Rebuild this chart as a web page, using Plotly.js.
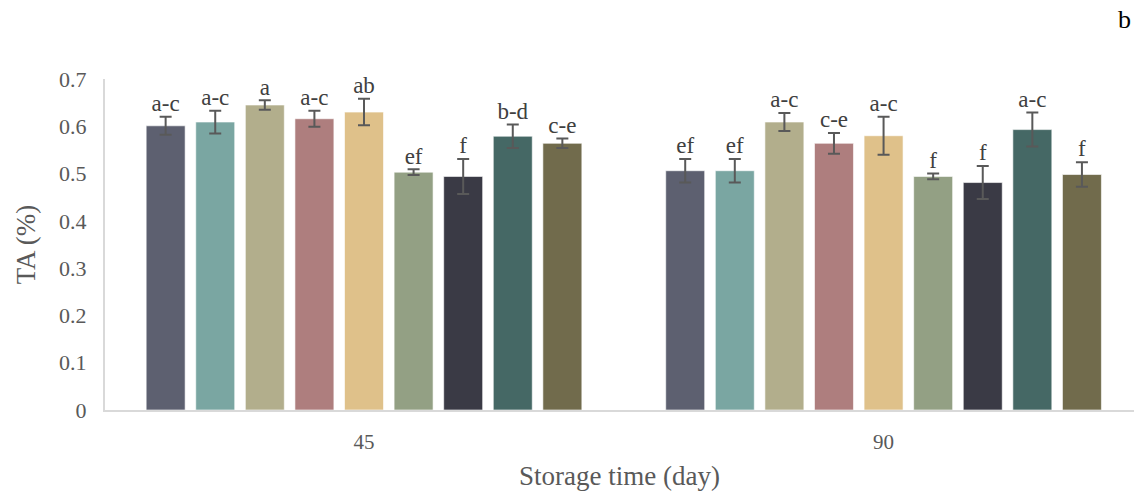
<!DOCTYPE html>
<html>
<head>
<meta charset="utf-8">
<script src="https://cdn.plot.ly/plotly-3.0.1.min.js"></script>
<style>html,body{margin:0;padding:0;background:#fff;}#chart{width:1134px;height:491px;}</style>
</head>
<body>
<div id="chart"></div>
<script>
const categories = ['45', '90'];
const seriesNames = ['T1', 'T2', 'T3', 'T4', 'T5', 'T6', 'T7', 'T8', 'T9'];
const values45 = [0.601, 0.609, 0.645, 0.616, 0.630, 0.503, 0.494, 0.579, 0.564];
const values90 = [0.506, 0.506, 0.609, 0.564, 0.580, 0.494, 0.481, 0.593, 0.498];
const errors45 = [0.019, 0.024, 0.010, 0.017, 0.028, 0.006, 0.037, 0.025, 0.010];
const errors90 = [0.025, 0.025, 0.019, 0.022, 0.040, 0.006, 0.035, 0.036, 0.026];
const letters45 = ['a-c', 'a-c', 'a', 'a-c', 'ab', 'ef', 'f', 'b-d', 'c-e'];
const letters90 = ['ef', 'ef', 'a-c', 'c-e', 'a-c', 'f', 'f', 'a-c', 'f'];
const colors = ['#5d6070', '#7aa6a2', '#b2ae8c', '#ae7e7e', '#dfc18a', '#93a084', '#3a3a45', '#456865', '#716b4c'];

const font = '"Liberation Serif", "Times New Roman", serif';
const traces = [];
seriesNames.forEach((name, i) => {
  traces.push({
    type: 'bar',
    name: name,
    x: categories,
    y: [values45[i], values90[i]],
    marker: {color: colors[i], line: {color: 'rgba(255,255,255,0.6)', width: 1}},
    error_y: {type: 'data', array: [errors45[i], errors90[i]], visible: true, color: '#595959', thickness: 2, width: 6},
    showlegend: false,
    hoverinfo: 'y'
  });
});
seriesNames.forEach((name, i) => {
  traces.push({
    type: 'scatter',
    mode: 'text',
    name: name + ' letters',
    x: categories,
    y: [values45[i] + errors45[i], values90[i] + errors90[i]],
    text: [letters45[i], letters90[i]],
    textposition: 'top center',
    textfont: {family: font, size: 23, color: '#404040'},
    showlegend: false,
    hoverinfo: 'skip',
    cliponaxis: false
  });
});

const layout = {
  width: 1134,
  height: 491,
  margin: {l: 105, r: 0, t: 79, b: 81},
  paper_bgcolor: '#ffffff',
  plot_bgcolor: '#ffffff',
  barmode: 'group',
  bargap: 0.141,
  bargroupgap: 0.214,
  scattermode: 'group',
  scattergap: 0.141,
  font: {family: font, color: '#595959'},
  xaxis: {
    type: 'category',
    range: [-0.4985, 1.482],
    showline: true, linecolor: '#d9d9d9', linewidth: 2,
    ticks: '', showgrid: false, zeroline: false,
    tickfont: {family: font, size: 21, color: '#595959'},
    ticklabelstandoff: 12,
    title: {text: 'Storage time (day)', font: {family: font, size: 27, color: '#595959'}, standoff: 16}
  },
  yaxis: {
    range: [0, 0.7],
    dtick: 0.1,
    tickformat: '.1~f',
    showline: true, linecolor: '#d9d9d9', linewidth: 2,
    ticks: '', showgrid: false, zeroline: false,
    tickfont: {family: font, size: 22, color: '#595959'},
    ticklabelstandoff: 12,
    title: {text: 'TA (%)', font: {family: font, size: 27, color: '#595959'}, standoff: 16}
  },
  annotations: [{
    text: 'b', xref: 'paper', yref: 'paper', x: 1, y: 1, xanchor: 'right', yanchor: 'bottom',
    yshift: 43, xshift: -1, showarrow: false, font: {family: font, size: 26, color: '#000000'}
  }]
};

Plotly.newPlot('chart', traces, layout, {displayModeBar: false, staticPlot: true});
</script>
</body>
</html>
